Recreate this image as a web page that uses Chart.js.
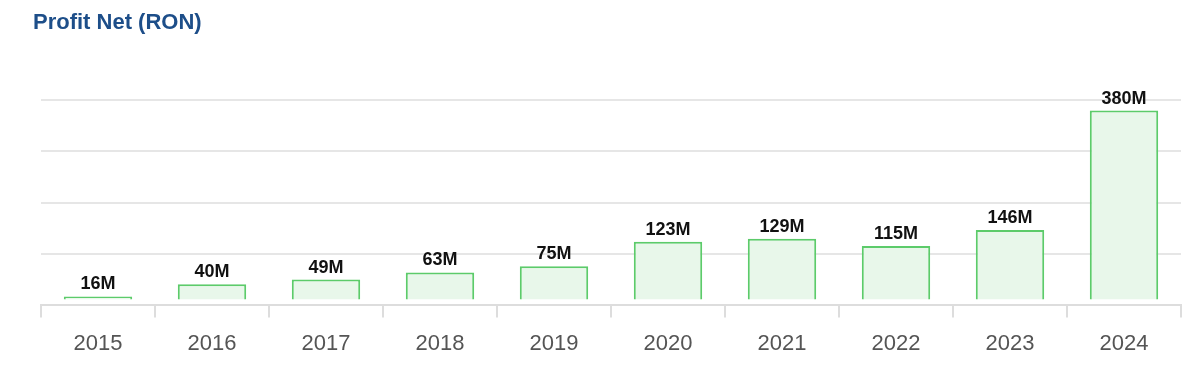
<!DOCTYPE html>
<html>
<head>
<meta charset="utf-8">
<script src="https://cdn.jsdelivr.net/npm/chart.js@4.4.0/dist/chart.umd.min.js"></script>
<style>
  html, body { margin: 0; padding: 0; background: #fff; }
  #wrap { width: 1200px; height: 373px; position: relative; }
</style>
</head>
<body>
<div id="wrap"><canvas id="profitChart"></canvas></div>
<script>
// chart data
const years = ['2015', '2016', '2017', '2018', '2019', '2020', '2021', '2022', '2023', '2024'];
const profitM = [16, 40, 49, 63, 75, 123, 129, 115, 146, 380];
const valueLabels = ['16M', '40M', '49M', '63M', '75M', '123M', '129M', '115M', '146M', '380M'];

// small plugin to write the value above each bar
const barValues = {
  id: 'barValues',
  afterDatasetsDraw(chart) {
    const ctx = chart.ctx;
    const meta = chart.getDatasetMeta(0);
    ctx.save();
    ctx.font = 'bold 18px "Liberation Sans", Arial, sans-serif';
    ctx.fillStyle = '#111';
    ctx.textAlign = 'center';
    ctx.textBaseline = 'alphabetic';
    meta.data.forEach(function (bar, i) {
      ctx.fillText(valueLabels[i], bar.x, bar.y - 7);
    });
    ctx.restore();
  }
};

const ctx = document.getElementById('profitChart').getContext('2d');
new Chart(ctx, {
  type: 'bar',
  data: {
    labels: years,
    datasets: [{
      label: 'Profit Net (RON)',
      data: profitM,
      base: 10,
      backgroundColor: '#e8f7ea',
      borderColor: '#5ccb6a',
      borderWidth: 2,
      categoryPercentage: 1,
      barPercentage: 0.6,
    }]
  },
  options: {
    responsive: true,
    maintainAspectRatio: false,
    animation: false,
    layout: { padding: { left: 33, right: 19, top: 0, bottom: 3 } },
    plugins: {
      legend: { display: false },
      tooltip: { enabled: false },
      title: {
        display: true,
        text: 'Profit Net (RON)',
        align: 'start',
        color: '#1d4e89',
        font: { family: '"Liberation Sans", Arial, sans-serif', size: 22, weight: 'bold' },
        padding: { top: 10, bottom: 64 },
      },
    },
    scales: {
      x: {
        grid: {
          drawOnChartArea: false,
          drawTicks: true,
          tickLength: 13,
          color: '#dddddd',
          lineWidth: 2,
        },
        border: { display: true, color: '#dddddd', width: 2 },
        ticks: {
          color: '#555',
          padding: 13,
          font: { family: '"Liberation Sans", Arial, sans-serif', size: 22 },
        },
      },
      y: {
        min: 0,
        max: 400,
        ticks: { display: false, stepSize: 100 },
        grid: {
          drawTicks: false,
          lineWidth: 2,
          color: function (c) { return c.tick.value > 0 ? '#e6e6e6' : 'transparent'; },
        },
        border: { display: false },
        afterFit: function (scale) { scale.width = 8; },
      },
    },
  },
  plugins: [barValues],
});
</script>
</body>
</html>
